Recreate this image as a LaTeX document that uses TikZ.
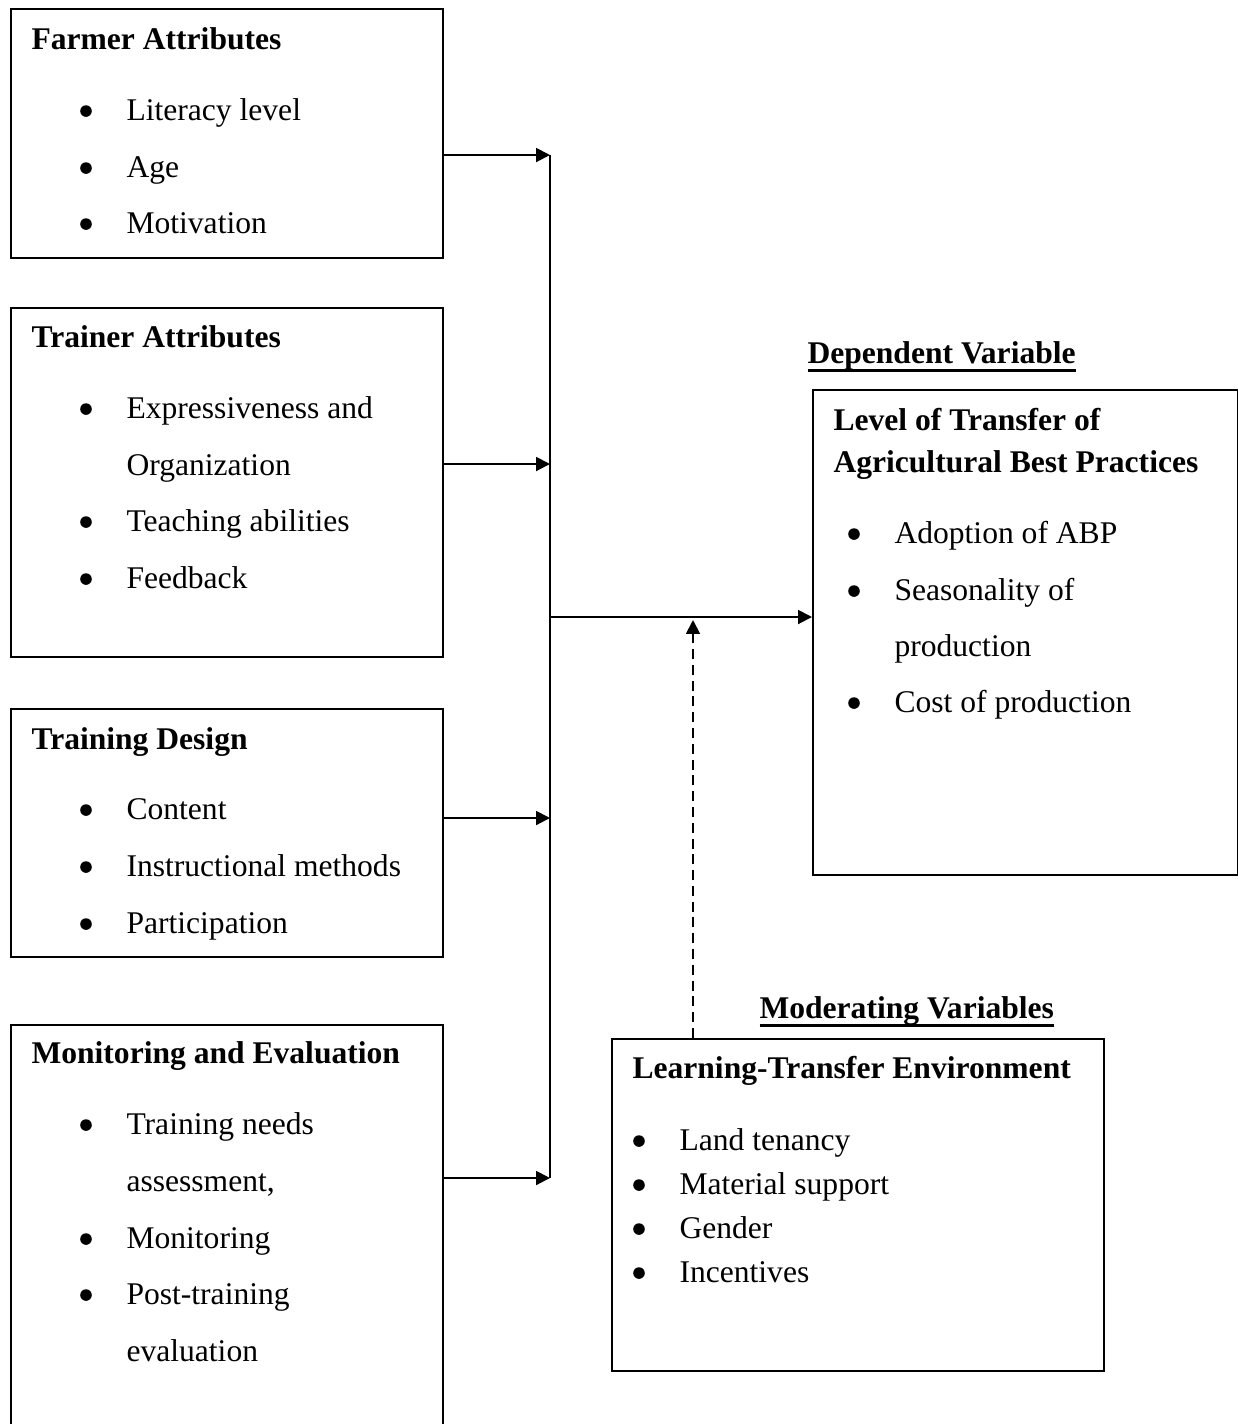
\documentclass[tikz,border=0pt]{standalone}
\usepackage{fontspec}
\setmainfont{Liberation Serif}
\usetikzlibrary{arrows.meta}

\newcommand{\ulinetext}[1]{\setbox0\hbox{#1}\rlap{\rule[-3.4pt]{\wd0}{1.1pt}}\box0}

\tikzset{
    varbox/.style={draw, line width=0.75pt, anchor=north west, inner sep=0pt},
    head/.style={anchor=base west, inner sep=0pt, font=\fontsize{12}{14}\selectfont\bfseries},
    entry/.style={anchor=base west, inner sep=0pt, font=\fontsize{12}{14}\selectfont},
    flow/.style={line width=0.75pt, -{Triangle[length=5.3pt, width=5.3pt]}},
}

\begin{document}
\begin{tikzpicture}[x=0.38pt, y=-0.38pt]
        \useasboundingbox (0,0) rectangle (1238,1424);

        % independent variables
        \node[varbox, minimum width=164.2pt, minimum height=94.6pt] at (10,8) (farmer) {};
        \node[head] at (31,49) (farmerhead) {Farmer Attributes};
        \node[entry] at (126,120) (fa1) {Literacy level};
        \node[entry] at (126,177) (fa2) {Age};
        \node[entry] at (126,233) (fa3) {Motivation};

        \node[varbox, minimum width=164.2pt, minimum height=132.6pt] at (10,307) (trainer) {};
        \node[head] at (31,347) (trainerhead) {Trainer Attributes};
        \node[entry] at (126,418) (tr1) {Expressiveness and};
        \node[entry] at (126,475) (tr1b) {Organization};
        \node[entry] at (126,531) (tr2) {Teaching abilities};
        \node[entry] at (126,588) (tr3) {Feedback};

        \node[varbox, minimum width=164.2pt, minimum height=94.2pt] at (10,708) (design) {};
        \node[head] at (31,749) (designhead) {Training Design};
        \node[entry] at (126,819) (de1) {Content};
        \node[entry] at (126,876) (de2) {Instructional methods};
        \node[entry] at (126,933) (de3) {Participation};

        \node[varbox, minimum width=164.2pt, minimum height=163.4pt] at (10,1024) (monitor) {};
        \node[head] at (31,1063) (monitorhead) {Monitoring and Evaluation};
        \node[entry] at (126,1134) (mo1) {Training needs};
        \node[entry] at (126,1191) (mo1b) {assessment,};
        \node[entry] at (126,1248) (mo2) {Monitoring};
        \node[entry] at (126,1304) (mo3) {Post-training};
        \node[entry] at (126,1361) (mo3b) {evaluation};

        % dependent variable
        \node[head] at (807,363) (deplabel) {\ulinetext{Dependent Variable}};
        \node[varbox, minimum width=161.5pt, minimum height=184.3pt] at (812,389) (dep) {};
        \node[head] at (833,430) (dephead) {Level of Transfer of};
        \node[head] at (833,472) (dephead2) {Agricultural Best Practices};
        \node[entry] at (894,543) (dp1) {Adoption of ABP};
        \node[entry] at (894,600) (dp2) {Seasonality of};
        \node[entry] at (894,656) (dp2b) {production};
        \node[entry] at (894,712) (dp3) {Cost of production};

        % moderating variables
        \node[head] at (759,1018) (modlabel) {\ulinetext{Moderating Variables}};
        \node[varbox, minimum width=187pt, minimum height=126.2pt] at (611,1038) (mod) {};
        \node[head] at (632,1078) (modhead) {Learning-Transfer Environment};
        \node[entry] at (679,1150) (md1) {Land tenancy};
        \node[entry] at (679,1194) (md2) {Material support};
        \node[entry] at (679,1238) (md3) {Gender};
        \node[entry] at (679,1282) (md4) {Incentives};

        \foreach \n in {fa1,fa2,fa3,tr1,tr2,tr3,de1,de2,de3,mo1,mo2,mo3,dp1,dp2,dp3,md1,md2,md3,md4}
            \fill ([xshift=-15.2pt, yshift=3.4pt]\n.base west) circle (2.2pt);

        % connectors
        \coordinate (j1) at (550,155);
        \coordinate (j2) at (550,464);
        \coordinate (j3) at (550,818);
        \coordinate (j4) at (550,1178);
        \coordinate (jm) at (550,617);
        \coordinate (dm) at (693,620);

        \draw[flow] (farmer.east |- j1) -- (j1);
        \draw[flow] (trainer.east |- j2) -- (j2);
        \draw[flow] (design.east |- j3) -- (j3);
        \draw[flow] (monitor.east |- j4) -- (j4);
        \draw[line width=0.75pt] (j1) -- (j4);
        \draw[flow] (jm) -- (dep.west |- jm);
        \draw[flow, dash pattern=on 3.8pt off 2.2pt] (mod.north -| dm) -- (dm);
    \end{tikzpicture}
\end{document}
